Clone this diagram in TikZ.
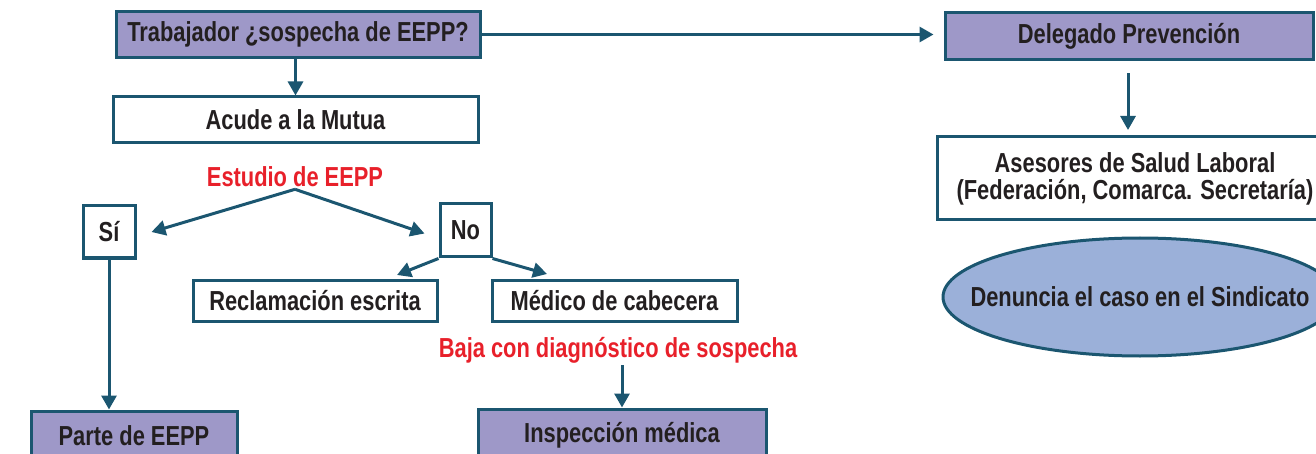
\documentclass[tikz,border=0pt]{standalone}
\usepackage{fontspec}
\setmainfont{Liberation Sans}[FakeStretch=0.795]
\usetikzlibrary{arrows.meta,shapes.geometric}

\definecolor{linea}{HTML}{1B5670}
\definecolor{lila}{HTML}{9E98C8}
\definecolor{azul}{HTML}{9BB0D9}
\definecolor{rojo}{HTML}{E8202A}
\definecolor{texto}{HTML}{231F20}

\begin{document}
\begin{tikzpicture}[
        x=1pt, y=-1pt, % coordenadas en pixeles, eje y hacia abajo
        every node/.style = {font=\bfseries\fontsize{27.5}{27}\selectfont, text=texto},
        caja/.style = {draw=linea, line width=3pt, fill=white, inner sep=0pt}, % cajas blancas
        cajalila/.style = {caja, fill=lila}, % cajas moradas
        etiq/.style = {text=rojo, inner sep=2pt}, % textos en rojo
        flecha/.style = {draw=linea, line width=3pt, -{Triangle[length=14pt, width=15pt]}},
    ]

    \path[use as bounding box, clip] (0,0) rectangle (1316,454);

    % columna izquierda
    \node[cajalila, minimum width=364pt, minimum height=46pt] (trab) at (298,34.5) {Trabajador ¿sospecha de EEPP?};
    \node[caja, minimum width=365pt, minimum height=46pt] (acude) at (295.5,120) {Acude a la Mutua};
    \node[etiq] (estudio) at (295,177) {Estudio de EEPP};
    \node[caja, minimum width=52pt, minimum height=52pt] (si) at (109,232) {Sí};
    \node[caja, minimum width=51pt, minimum height=53pt] (no) at (465.5,230.5) {No};
    \node[caja, minimum width=244pt, minimum height=41pt] (recl) at (315,300.5) {Reclamación escrita};
    \node[caja, minimum width=245pt, minimum height=41pt] (medico) at (614.5,300.5) {Médico de cabecera};
    \node[etiq] (baja) at (618,350) {Baja con diagnóstico de sospecha};
    \node[cajalila, minimum width=206pt, minimum height=50pt] (parte) at (134,436) {Parte de EEPP};
    \node[cajalila, minimum width=288pt, minimum height=52pt] (insp) at (622,435) {Inspección médica};

    % columna derecha
    \node[cajalila, minimum width=368pt, minimum height=47pt] (deleg) at (1129,36.5) {Delegado Prevención};
    \node[caja, minimum width=396pt, minimum height=83pt, align=center] (asesor) at (1135,178.5)
        {Asesores de Salud Laboral\\(Federación, Comarca. Secretaría)};
    \node[ellipse, draw=linea, line width=3pt, fill=azul, minimum width=394pt, minimum height=118pt, inner sep=0pt]
        (denuncia) at (1140,297) {\makebox[0pt]{Denuncia el caso en el Sindicato}};

    \coordinate (reclin) at (397,275);
    \coordinate (medin) at (547,274);

    \draw[flecha] (acude.north |- trab.south) -- (acude.north);
    \draw[flecha] (trab.east) -- ([xshift=-10pt]trab.east -| deleg.west);
    \draw[flecha] (estudio.south) -- ([xshift=15pt]si.east);
    \draw[flecha] (estudio.south) -- ([xshift=-14pt,yshift=-3pt]no.west);
    \draw[flecha] (no.south west) -- (reclin);
    \draw[flecha] (no.south east) -- (medin);
    \draw[flecha] (si.south) -- (si.south |- parte.north);
    \draw[flecha] (baja.south -| insp.north) -- (insp.north);
    \draw[flecha] ([xshift=-1pt,yshift=-12pt]deleg.south) -- ([xshift=-7pt]asesor.north |- 0,130);
\end{tikzpicture}
\end{document}
